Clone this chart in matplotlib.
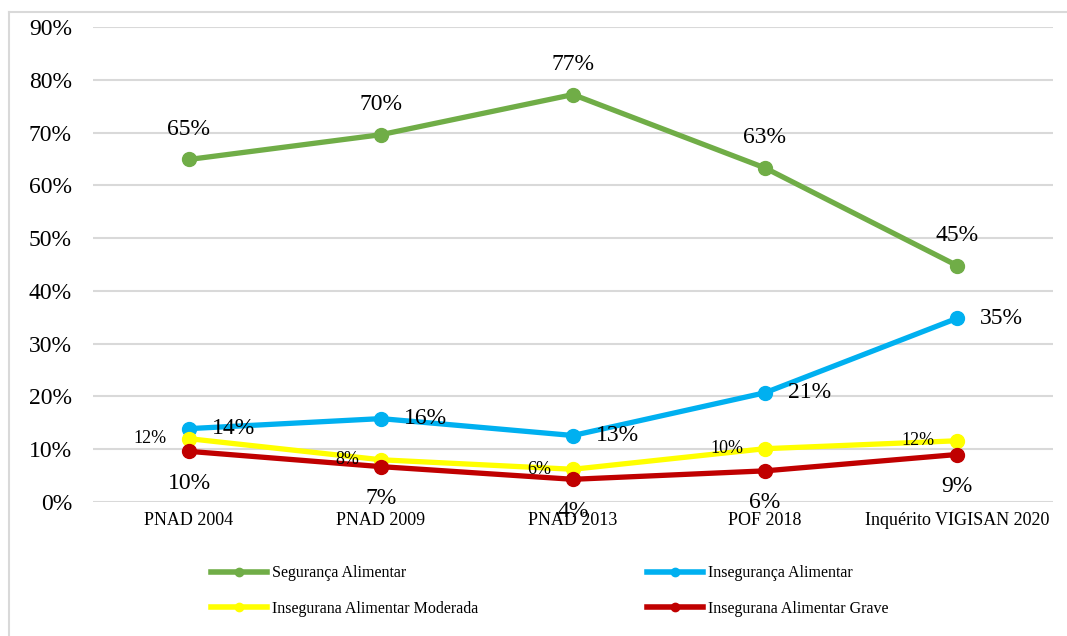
import matplotlib
matplotlib.use("Agg")
import matplotlib.pyplot as plt
from matplotlib.lines import Line2D
from matplotlib.ticker import FuncFormatter

plt.rcParams['font.family'] = ['Liberation Serif', 'DejaVu Serif']

surveys = ["PNAD 2004", "PNAD 2009", "PNAD 2013", "POF 2018", "Inquérito VIGISAN 2020"]
seguranca = [64.9, 69.6, 77.2, 63.3, 44.8]
inseguranca = [13.9, 15.8, 12.6, 20.7, 34.8]
moderada = [12.0, 8.0, 6.2, 10.1, 11.6]
grave = [9.6, 6.7, 4.3, 5.9, 9.0]

series = [
    ("Segurança Alimentar", seguranca, "#70AD47"),
    ("Insegurança Alimentar", inseguranca, "#00B0F0"),
    ("Insegurana Alimentar Moderada", moderada, "#FFFF00"),
    ("Insegurana Alimentar Grave", grave, "#C00000"),
]

W, H = 1067, 636
fig = plt.figure(figsize=(W / 100, H / 100), dpi=100)
ax = fig.add_axes([93 / W, 1 - 502 / H, 960 / W, 475 / H])

x = list(range(len(surveys)))
px = 0.72  # points per pixel at 100 dpi

for name, vals, col in series:
    ax.plot(x, vals, color=col, lw=3.8, marker="o", ms=10, solid_capstyle="round",
            clip_on=False, zorder=3)

# data labels
for i, v in enumerate(seguranca):
    ax.annotate(f"{v:.0f}%", (i, v), xytext=(0, 30 * px), textcoords="offset points",
                ha="center", va="center", fontsize=17)
for i, v in enumerate(inseguranca):
    ax.annotate(f"{v:.0f}%", (i, v), xytext=(23 * px, 0), textcoords="offset points",
                ha="left", va="center", fontsize=17)
for i, v in enumerate(moderada):
    ax.annotate(f"{v:.0f}%", (i, v), xytext=(-22 * px, 0), textcoords="offset points",
                ha="right", va="center", fontsize=13)
for i, v in enumerate(grave):
    ax.annotate(f"{v:.0f}%", (i, v), xytext=(0, -32 * px), textcoords="offset points",
                ha="center", va="center", fontsize=17)

ax.set_xlim(-0.5, len(surveys) - 0.5)
ax.set_ylim(0, 90)
ax.set_yticks(range(0, 91, 10))
ax.yaxis.set_major_formatter(FuncFormatter(lambda v, p: f"{v:.0f}%"))
ax.set_xticks(x)
ax.set_xticklabels(surveys, fontsize=13)
ax.tick_params(axis="y", labelsize=17, length=0, pad=21 * px)
ax.tick_params(axis="x", length=0, pad=10 * px)
ax.grid(axis="y", color="#D9D9D9", lw=1.5)
ax.set_axisbelow(True)
for s in ax.spines.values():
    s.set_visible(False)

# legend (two columns, filled row by row)
handles = [Line2D([], [], color=c, lw=4, marker="o", ms=6) for _, _, c in series]
labels = [n for n, _, _ in series]
order = [0, 2, 1, 3]
fig.legend([handles[k] for k in order], [labels[k] for k in order], ncol=2,
           loc="center left", frameon=False,
           bbox_to_anchor=(211 / W, 1 - 591 / H), borderpad=0, borderaxespad=0,
           fontsize=11.5, handlelength=3.5, handletextpad=0.3, columnspacing=10.6,
           labelspacing=1.2)

# outer chart frame (cropped on right and bottom)
fig.add_artist(Line2D([9 / W, 1], [1 - 12 / H, 1 - 12 / H], color="#D9D9D9", lw=1.5,
                      transform=fig.transFigure))
fig.add_artist(Line2D([9 / W, 9 / W], [0, 1 - 12 / H], color="#D9D9D9", lw=1.5,
                      transform=fig.transFigure))

fig.savefig("out.png", dpi=100)
